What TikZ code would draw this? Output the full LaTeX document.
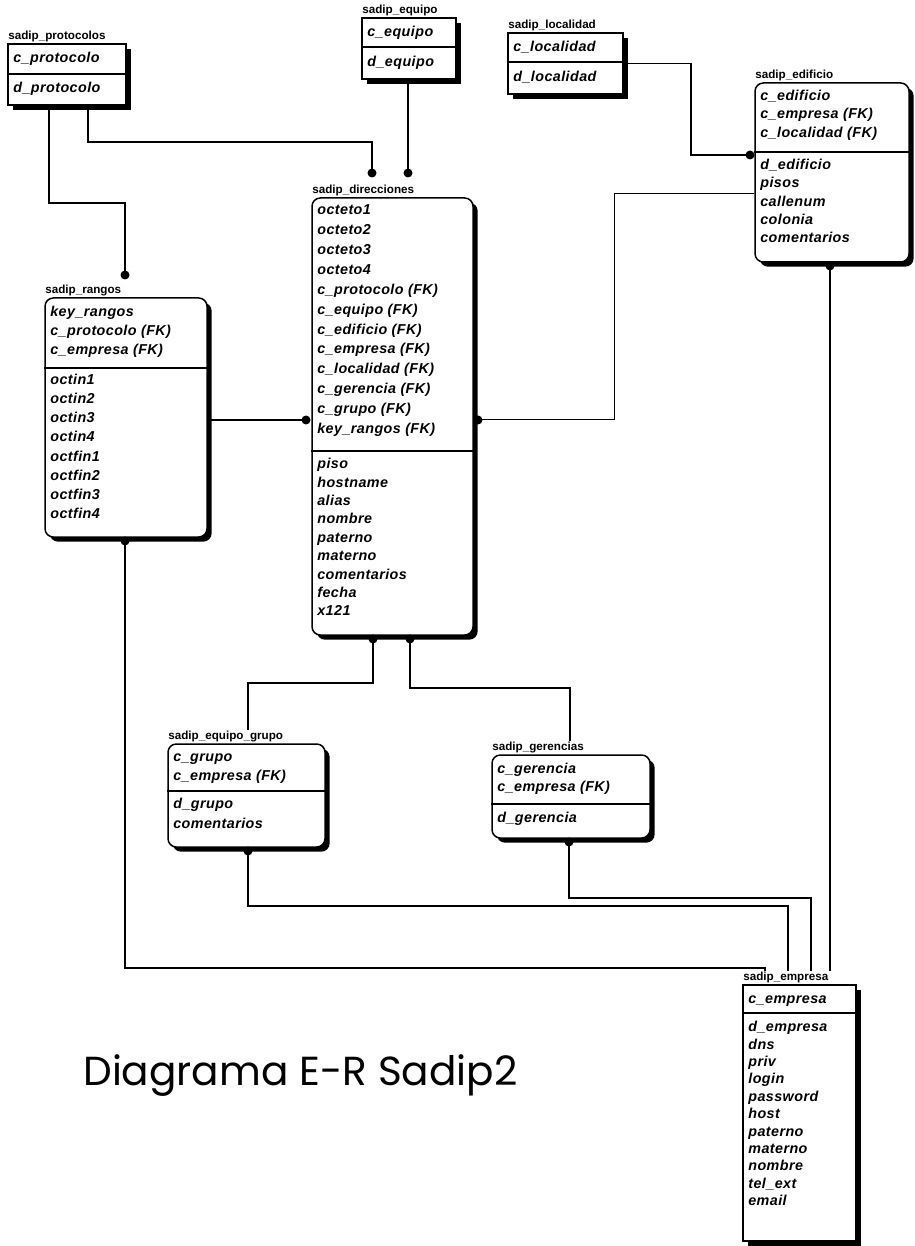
\documentclass[tikz,border=0pt]{standalone}
\usepackage{fontspec}
\setmainfont{Liberation Sans}
\newfontfamily\attrfont[LetterSpace=3]{Liberation Sans}
\newfontfamily\headfont{Poppins}
\usetikzlibrary{fit,shadows}

% one attribute per row: prefix, x, first y, row pitch, list of names
\newcommand{\attrrows}[5]{%
  \foreach \aname [count=\i from 0] in {#5} {
    \node[attr] (#1\i) at (#2, #3+\i*#4) {\aname};
  }}

\tikzset{
  ent/.style={draw, line width=0.9pt, fill=white, inner sep=0pt,
    drop shadow={shadow xshift=2.8pt, shadow yshift=-2.8pt, fill=black, opacity=1}},
  weak/.style={ent, rounded corners=5pt},
  enttitle/.style={anchor=south west, inner sep=0pt, font=\fontsize{7}{8}\selectfont\bfseries},
  attr/.style={anchor=west, inner sep=0pt, text height=6.4pt, text depth=2pt,
    font=\attrfont\fontsize{8.6}{10}\selectfont\bfseries\itshape},
  sepline/.style={line width=0.8pt},
  conn/.style={line width=0.8pt},
  fk/.style={circle, fill=black, inner sep=0pt, minimum size=5.4pt},
}

\begin{document}
\begin{tikzpicture}[x=0.6pt, y=-0.6pt]
\useasboundingbox (0,0) rectangle (915,1246);
\fill[white] (0,0) rectangle (915,1246);

% ---- sadip_protocolos
\node[ent, fit={(8,44)(126,105)}] (protocolos) {};
\node[enttitle] (tprotocolos) at (8,42) {sadip\_protocolos};
\draw[sepline] (protocolos.west |- 0,74) -- (protocolos.east |- 0,74);
\attrrows{pr}{13}{59}{29.5}{c\_protocolo, d\_protocolo}

% ---- sadip_equipo
\node[ent, fit={(362,18)(456,79)}] (equipo) {};
\node[enttitle] (tequipo) at (362,16) {sadip\_equipo};
\draw[sepline] (equipo.west |- 0,47) -- (equipo.east |- 0,47);
\attrrows{eq}{367}{33}{29.5}{c\_equipo, d\_equipo}

% ---- sadip_localidad
\node[ent, fit={(508,33)(623,94)}] (localidad) {};
\node[enttitle] (tlocalidad) at (508,31) {sadip\_localidad};
\draw[sepline] (localidad.west |- 0,62) -- (localidad.east |- 0,62);
\attrrows{lo}{513}{48}{29.5}{c\_localidad, d\_localidad}

% ---- sadip_edificio
\node[weak, fit={(755,83)(909,262)}] (edificio) {};
\node[enttitle] (tedificio) at (755,81) {sadip\_edificio};
\draw[sepline] (edificio.west |- 0,152) -- (edificio.east |- 0,152);
\attrrows{edk}{760}{97}{18.2}{c\_edificio, c\_empresa (FK), c\_localidad (FK)}
\attrrows{eda}{760}{166}{18.3}{d\_edificio, pisos, callenum, colonia, comentarios}

% ---- sadip_direcciones
\node[weak, fit={(312,198)(473,635)}] (direcciones) {};
\node[enttitle] (tdirecciones) at (312,196) {sadip\_direcciones};
\draw[sepline] (direcciones.west |- 0,451) -- (direcciones.east |- 0,451);
\attrrows{dik}{317}{211}{19.9}{octeto1, octeto2, octeto3, octeto4, c\_protocolo (FK),
  c\_equipo (FK), c\_edificio (FK), c\_empresa (FK), c\_localidad (FK),
  c\_gerencia (FK), c\_grupo (FK), key\_rangos (FK)}
\attrrows{dia}{317}{465}{18.4}{piso, hostname, alias, nombre, paterno, materno,
  comentarios, fecha, x121}

% ---- sadip_rangos
\node[weak, fit={(45,298)(207,537)}] (rangos) {};
\node[enttitle] (trangos) at (45,296) {sadip\_rangos};
\draw[sepline] (rangos.west |- 0,368) -- (rangos.east |- 0,368);
\attrrows{rak}{50}{313}{19}{key\_rangos, c\_protocolo (FK), c\_empresa (FK)}
\attrrows{raa}{50}{381}{19.1}{octin1, octin2, octin3, octin4, octfin1, octfin2, octfin3, octfin4}

% ---- sadip_equipo_grupo
\node[weak, fit={(168,744)(325,847)}] (equipogrupo) {};
\node[enttitle] (tequipogrupo) at (168,742) {sadip\_equipo\_grupo};
\draw[sepline] (equipogrupo.west |- 0,791) -- (equipogrupo.east |- 0,791);
\attrrows{egk}{173}{758}{19}{c\_grupo, c\_empresa (FK)}
\attrrows{ega}{173}{805}{20}{d\_grupo, comentarios}

% ---- sadip_gerencias
\node[weak, fit={(492,755)(650,838)}] (gerencias) {};
\node[enttitle] (tgerencias) at (492,753) {sadip\_gerencias};
\draw[sepline] (gerencias.west |- 0,804) -- (gerencias.east |- 0,804);
\attrrows{gek}{497}{770}{18}{c\_gerencia, c\_empresa (FK)}
\attrrows{gea}{497}{819}{18}{d\_gerencia}

% ---- sadip_empresa
\node[ent, fit={(743,985)(856,1241)}] (empresa) {};
\node[enttitle] (tempresa) at (743,983) {sadip\_empresa};
\draw[sepline] (empresa.west |- 0,1013) -- (empresa.east |- 0,1013);
\attrrows{emk}{748}{1000}{18}{c\_empresa}
\attrrows{ema}{748}{1028}{17.4}{d\_empresa, dns, priv, login, password, host,
  paterno, materno, nombre, tel\_ext, email}

% ---- foreign key ends
\node[fk] (dA) at (125,275) {};
\node[fk] (dB) at (372,173) {};
\node[fk] (dC) at (408,173) {};
\node[fk] (dD) at (750,155) {};
\node[fk] (dE) at (478,420) {};
\node[fk] (dF) at (306,420) {};
\node[fk] (dG) at (373,639) {};
\node[fk] (dH) at (410,639) {};
\node[fk] (dI) at (248,851) {};
\node[fk] (dJ) at (569,842) {};
\node[fk] (dK) at (125,541) {};
\node[fk] (dL) at (830,266) {};

% ---- relationships
\draw[conn] (protocolos.south -| 49,0) |- (125,203) -- (dA.center);
\draw[conn] (protocolos.south -| 88,0) |- (372,142) -- (dB.center);
\draw[conn] (equipo.south -| dC) -- (dC.center);
\draw[conn] (localidad.east) -| (691,155) -- (dD.center);
\draw[conn, line width=0.6pt] (edificio.west |- 0,194) -| (614,420) -- (dE.center);
\draw[conn] (rangos.east |- dF) -- (dF.center);
\draw[conn] (dG.center) |- (248,683) -- (248,0 |- tequipogrupo.north);
\draw[conn] (dH.center) |- (570,688) -- (570,0 |- tgerencias.north);
\draw[conn] (dI.center) |- (788,906) -- (788,0 |- tempresa.north);
\draw[conn] (dJ.center) |- (811,898) -- (811,0 |- tempresa.north);
\draw[conn] (dK.center) |- (765,968) -- (765,0 |- tempresa.north);
\draw[conn] (dL.center) -- (dL.center |- tempresa.north);

% ---- caption
\node[anchor=base west, inner sep=0pt] (caption) at (83,1085)
  {\resizebox{260.4pt}{!}{\headfont Diagrama E-R Sadip2}};
\end{tikzpicture}
\end{document}
